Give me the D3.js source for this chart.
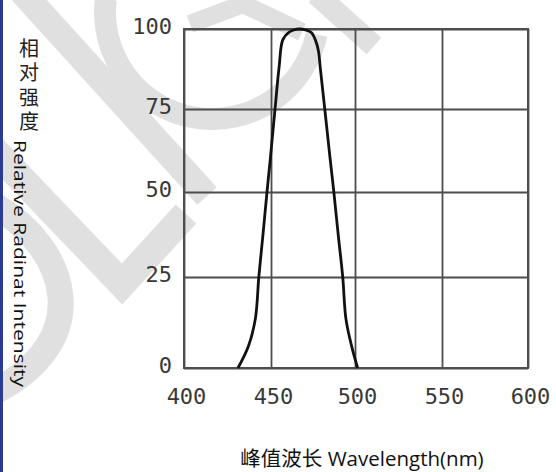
<!DOCTYPE html>
<html>
<head>
<meta charset="utf-8">
<script src="https://cdn.jsdelivr.net/npm/d3@7"></script>
<style>
  html, body { margin: 0; padding: 0; background: #fff; }
  svg { display: block; }
</style>
</head>
<body>
<div id="chart"></div>
<script>
// tick labels
var xTicks = [400, 450, 500, 550, 600];
var yTicks = [0, 25, 50, 75, 100];

// spectrum
var wavelength = [431, 437, 441, 443, 445.3, 447.7, 449.6, 452.4, 454.8, 457, 460.5, 463.5, 467, 470.5, 474, 476.4, 478.3, 479.3, 482, 485.2, 487.4, 490.1, 492.7, 494.6, 498, 501.5];
var intensity  = [0, 6, 13.5, 25, 37, 50, 60, 75, 88, 96.6, 98.9, 99.7, 100, 99.7, 98.9, 96.6, 93, 88, 75, 60, 50, 37, 25, 13.5, 6, 0];

var width = 556, height = 472;

var svg = d3.select("#chart").append("svg")
    .attr("width", width)
    .attr("height", height);

// faint watermark strokes behind the plot
var wm = svg.append("g")
    .attr("fill", "none")
    .attr("stroke", "#e0e0e0")
    .attr("stroke-linejoin", "miter");
wm.append("path").attr("d", "M22,-8L207,196").attr("stroke-width", 26);
wm.append("path").attr("d", "M-8,148L122,284L186,214").attr("stroke-width", 28);
wm.append("path").attr("d", d3.arc()({innerRadius: 96, outerRadius: 118, startAngle: -1.45, endAngle: -4.5}))
    .attr("transform", "translate(212,12)").attr("stroke", "none").attr("fill", "#e0e0e0");
wm.append("path").attr("d", "M190,24L243,4L302,32").attr("stroke-width", 18);
wm.append("path").attr("d", "M316,-6L374,46").attr("stroke-width", 22);
wm.append("path").attr("d", "M-6,205C70,250 95,340 -6,392").attr("stroke-width", 26);

// blue edge on the left
svg.append("rect")
    .attr("x", 0).attr("y", 0)
    .attr("width", 3).attr("height", height)
    .attr("fill", "#2b3a93");

// the picture's grid is not evenly spaced, so the scales are piecewise
var x = d3.scaleLinear()
    .domain(xTicks)
    .range([184, 271, 355, 442, 528]);

var y = d3.scaleLinear()
    .domain(yTicks)
    .range([368, 277, 192, 109, 29]);

var gridColor = "#4d4d4d";

var gx = svg.append("g")
    .attr("transform", "translate(0," + y(0) + ")")
    .call(d3.axisBottom(x).tickValues(xTicks).tickSize(-(y(0) - y(100))).tickPadding(20));
gx.select(".domain").remove();
gx.selectAll(".tick line").attr("stroke", gridColor).attr("stroke-width", 1.8);
gx.selectAll(".tick text")
    .attr("dx", 2)
    .attr("font-family", "DejaVu Sans Mono")
    .attr("font-size", 22)
    .attr("fill", "#383838");

var gy = svg.append("g")
    .attr("transform", "translate(" + x(400) + ",0)")
    .call(d3.axisLeft(y).tickValues(yTicks).tickSize(-(x(600) - x(400))).tickPadding(12));
gy.select(".domain").remove();
gy.selectAll(".tick line").attr("stroke", gridColor).attr("stroke-width", 1.8);
gy.selectAll(".tick text")
    .attr("dy", "0.2em")
    .attr("font-family", "DejaVu Sans Mono")
    .attr("font-size", 22)
    .attr("fill", "#383838");

// frame
svg.append("rect")
    .attr("x", x(400)).attr("y", y(100))
    .attr("width", x(600) - x(400))
    .attr("height", y(0) - y(100))
    .attr("fill", "none")
    .attr("stroke", gridColor)
    .attr("stroke-width", 2);

// the curve
var line = d3.line()
    .x(function(d, i) { return x(wavelength[i]); })
    .y(function(d) { return y(d); })
    .curve(d3.curveCatmullRom.alpha(0.5));

svg.append("path")
    .datum(intensity)
    .attr("d", line)
    .attr("fill", "none")
    .attr("stroke", "#111")
    .attr("stroke-width", 2.8);

// y title: chinese characters stacked, then the english rotated
svg.append("text")
    .attr("x", 29)
    .attr("y", 38)
    .attr("font-family", "Noto Sans CJK SC")
    .attr("font-size", 20)
    .attr("fill", "#222")
    .style("writing-mode", "vertical-rl")
    .style("letter-spacing", "4.5px")
    .text("相对强度");

svg.append("text")
    .attr("transform", "translate(14,140) rotate(90)")
    .attr("font-family", "Open Sans")
    .attr("font-size", 17)
    .attr("textLength", 247)
    .attr("lengthAdjust", "spacingAndGlyphs")
    .attr("fill", "#111")
    .text("Relative Radinat Intensity");

// x title
svg.append("text")
    .attr("x", 362)
    .attr("y", 466)
    .attr("text-anchor", "middle")
    .attr("font-family", "Open Sans, Noto Sans CJK SC")
    .attr("font-size", 20.5)
    .attr("fill", "#111")
    .text("峰值波长 Wavelength(nm)");
</script>
</body>
</html>
